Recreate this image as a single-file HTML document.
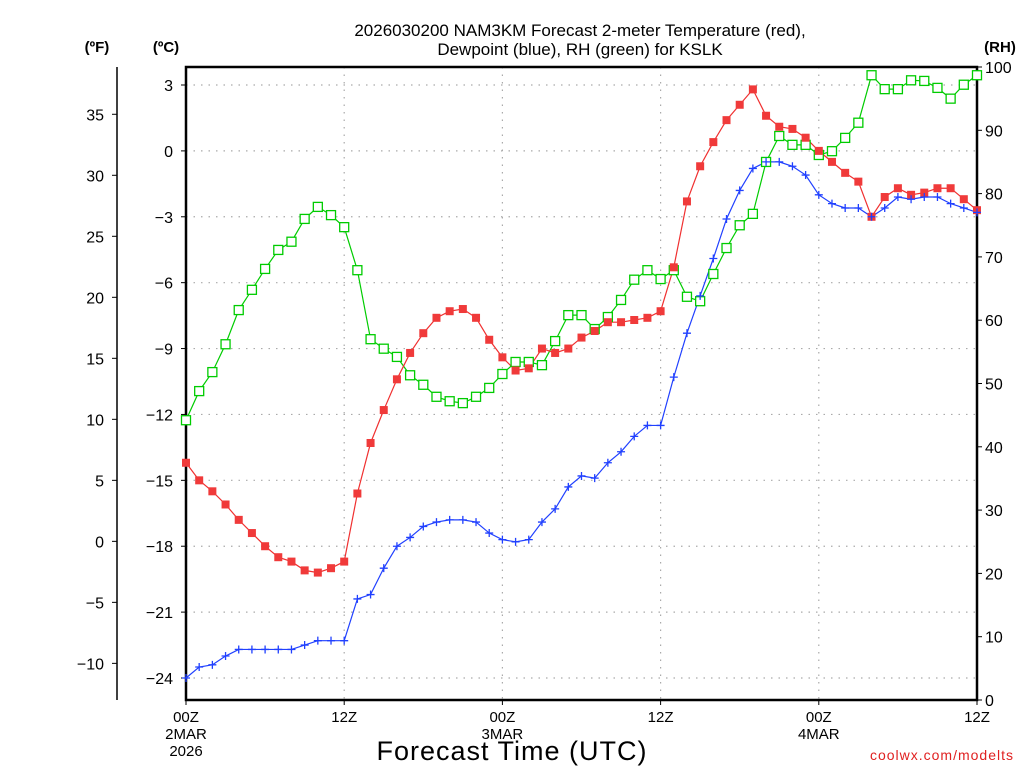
<!DOCTYPE html>
<html><head><meta charset="utf-8"><style>
html,body{margin:0;padding:0;background:#fff;}
svg{display:block;font-family:"Liberation Sans",sans-serif;}
</style></head><body>
<svg id="chart" width="1024" height="768" viewBox="0 0 1024 768" xmlns="http://www.w3.org/2000/svg">
<rect x="0" y="0" width="1024" height="768" fill="#fff"/>
<text x="580" y="36" text-anchor="middle" font-size="17">2026030200 NAM3KM Forecast 2-meter Temperature (red),</text>
<text x="580" y="55" text-anchor="middle" font-size="17">Dewpoint (blue), RH (green) for KSLK</text>
<text x="97" y="52" text-anchor="middle" font-size="15" font-weight="bold">(ºF)</text>
<text x="166" y="52" text-anchor="middle" font-size="15" font-weight="bold">(ºC)</text>
<text x="1000" y="52" text-anchor="middle" font-size="15" font-weight="bold">(RH)</text>
<text x="512" y="760" text-anchor="middle" font-size="27" letter-spacing="1">Forecast Time (UTC)</text>
<text x="1014" y="760" text-anchor="end" font-size="14" fill="#e02020" letter-spacing="1">coolwx.com/modelts</text>
<g id="grid"></g>
<g id="axes"></g>
<g id="series"></g>
</svg>
<script>
const timeLabels = ["00Z","12Z","00Z","12Z","00Z","12Z"];
const timeTickHours = [0,12,24,36,48,60];
const dateLabels = [["2MAR","2026"],[],["3MAR"],[],["4MAR"],[]];
const celsiusTicks = [3,0,-3,-6,-9,-12,-15,-18,-21,-24];
const fahrenheitTicks = [35,30,25,20,15,10,5,0,-5,-10];
const rhTicks = [100,90,80,70,60,50,40,30,20,10,0];
const tempC = [-14.2,-15.0,-15.5,-16.1,-16.8,-17.4,-18.0,-18.5,-18.7,-19.1,-19.2,-19.0,-18.7,-15.6,-13.3,-11.8,-10.4,-9.2,-8.3,-7.6,-7.3,-7.2,-7.6,-8.6,-9.4,-10.0,-9.9,-9.0,-9.2,-9.0,-8.5,-8.2,-7.8,-7.8,-7.7,-7.6,-7.3,-5.3,-2.3,-0.7,0.4,1.4,2.1,2.8,1.6,1.1,1.0,0.6,0.0,-0.5,-1.0,-1.4,-3.0,-2.1,-1.7,-2.0,-1.9,-1.7,-1.7,-2.2,-2.7];
const dewC = [-24.0,-23.5,-23.4,-23.0,-22.7,-22.7,-22.7,-22.7,-22.7,-22.5,-22.3,-22.3,-22.3,-20.4,-20.2,-19.0,-18.0,-17.6,-17.1,-16.9,-16.8,-16.8,-16.9,-17.4,-17.7,-17.8,-17.7,-16.9,-16.3,-15.3,-14.8,-14.9,-14.2,-13.7,-13.0,-12.5,-12.5,-10.3,-8.3,-6.6,-4.9,-3.1,-1.8,-0.8,-0.5,-0.5,-0.7,-1.1,-2.0,-2.4,-2.6,-2.6,-3.0,-2.6,-2.1,-2.2,-2.1,-2.1,-2.4,-2.6,-2.8];
const rh = [44.2,48.8,51.8,56.2,61.6,64.8,68.1,71.1,72.4,76.0,77.9,76.6,74.7,67.9,57.0,55.5,54.2,51.3,49.8,47.9,47.2,46.9,47.9,49.3,51.5,53.4,53.4,52.9,56.7,60.8,60.8,58.6,60.5,63.2,66.4,67.9,66.5,67.9,63.7,63.0,67.3,71.4,75.0,76.8,85.0,89.1,87.7,87.7,86.1,86.7,88.8,91.2,98.7,96.5,96.5,97.9,97.8,96.7,95.0,97.2,98.7];

const NS="http://www.w3.org/2000/svg";
const L=186,R=977,T=67,B=700;
const xH=h=>L+(R-L)*h/60;
const yC=c=>85+(3-c)*(678-85)/27;
const yF=f=>yC((f-32)/1.8);
const yRH=v=>B-(B-T)*v/100;
function mk(tag,attrs,parent){const e=document.createElementNS(NS,tag);for(const k in attrs)e.setAttribute(k,attrs[k]);parent.appendChild(e);return e;}
const grid=document.getElementById('grid'),axes=document.getElementById('axes'),series=document.getElementById('series');

celsiusTicks.forEach(c=>{
  const g=mk('line',{x1:L,x2:R,y1:yC(c),y2:yC(c),stroke:'#aaa','stroke-dasharray':'1.5 6','stroke-width':1.2},grid);
  
  
  mk('line',{x1:L-5,x2:L,y1:yC(c),y2:yC(c),stroke:'#000'},axes);
  const t=mk('text',{x:L-13,y:yC(c)+6,'text-anchor':'end','font-size':16},axes);
  t.textContent=c<0?'\u2212'+Math.abs(c):String(c);
  
  
});
timeTickHours.forEach((h,i)=>{
  if(h>0&&h<60){
    const g=mk('line',{x1:xH(h),x2:xH(h),y1:T,y2:B,stroke:'#aaa','stroke-dasharray':'1.5 6','stroke-width':1.2},grid);
    
    
  }
  mk('line',{x1:xH(h),x2:xH(h),y1:B,y2:B+5,stroke:'#000'},axes);
  const t=mk('text',{x:xH(h),y:B+22,'text-anchor':'middle','font-size':15},axes);
  t.textContent=timeLabels[i];
  
  
  dateLabels[i].forEach((d,j)=>{
    const u=mk('text',{x:xH(h),y:B+39+j*17,'text-anchor':'middle','font-size':15},axes);
    u.textContent=d;
    
    
  });
});
mk('line',{x1:117,x2:117,y1:67,y2:700,stroke:'#000','stroke-width':1.5},axes);
fahrenheitTicks.forEach(f=>{
  mk('line',{x1:112,x2:117,y1:yF(f),y2:yF(f),stroke:'#000'},axes);
  const t=mk('text',{x:104,y:yF(f)+6,'text-anchor':'end','font-size':16},axes);
  t.textContent=f<0?'\u2212'+Math.abs(f):String(f);
  
  
});
rhTicks.forEach(v=>{
  mk('line',{x1:R,x2:R+5,y1:yRH(v),y2:yRH(v),stroke:'#000'},axes);
  const t=mk('text',{x:R+8,y:yRH(v)+6,'font-size':16},axes);
  t.textContent=String(v);
  
  
});
const frame=mk('rect',{x:L,y:T,width:R-L,height:B-T,fill:'none',stroke:'#000','stroke-width':2.5},axes);



function line(vals,yf,color,name){
  const p=mk('polyline',{points:vals.map((v,i)=>xH(i)+','+yf(v)).join(' '),fill:'none',stroke:color,'stroke-width':1.2},series);
  
  
}
line(rh,yRH,'#00cc00','rh-line');
line(tempC,yC,'#f03030','temperature-line');
line(dewC,yC,'#2040ff','dewpoint-line');
rh.forEach((v,i)=>{
  const m=mk('rect',{x:xH(i)-4.5,y:yRH(v)-4.5,width:9,height:9,fill:'#fff',stroke:'#00cc00','stroke-width':1.3},series);
  
  
});
tempC.forEach((v,i)=>{
  const m=mk('rect',{x:xH(i)-4,y:yC(v)-4,width:8,height:8,fill:'#f03a3a'},series);
  
  
});
dewC.forEach((v,i)=>{
  const x=xH(i),y=yC(v);
  const m=mk('path',{d:`M${x-4},${y}H${x+4}M${x},${y-4}V${y+4}`,stroke:'#2040ff','stroke-width':1.3},series);
  
  
});
</script>
</body></html>
